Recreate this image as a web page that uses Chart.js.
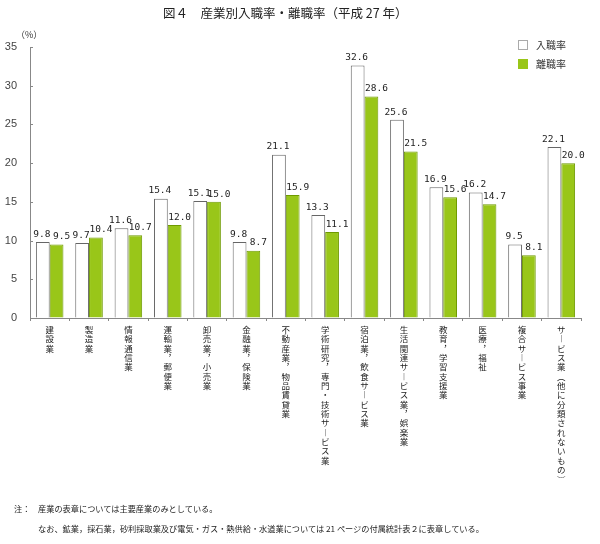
<!DOCTYPE html>
<html><head><meta charset="utf-8">
<script src="https://cdn.jsdelivr.net/npm/chart.js@4.4.0/dist/chart.umd.min.js"></script>
<style>
body{margin:0;background:#fff;width:600px;height:544px;overflow:hidden;position:relative;font-family:"Noto Sans CJK JP",sans-serif;}
#wrap{position:absolute;left:0;top:0;width:600px;height:544px;}
.t{position:absolute;white-space:nowrap;color:#222;line-height:1;}
</style></head><body>
<div id="wrap"><canvas id="c" width="600" height="544"></canvas></div>
<div class="t" style="left:163px;top:7px;font-size:12.5px;">図４　産業別入職率・離職率（平成 27 年）</div>
<div class="t" style="left:14px;top:504px;font-size:8.2px;">注：</div>
<div class="t" style="left:38px;top:504px;font-size:8.2px;">産業の表章については主要産業のみとしている。</div>
<div class="t" style="left:38px;top:524px;font-size:8.2px;">なお、鉱業，採石業，砂利採取業及び電気・ガス・熱供給・水道業については 21 ページの付属統計表２に表章している。</div>
<script>
const categories = [
  "建設業","製造業","情報通信業","運輸業，郵便業","卸売業，小売業","金融業，保険業",
  "不動産業，物品賃貸業","学術研究，専門・技術サービス業","宿泊業，飲食サービス業",
  "生活関連サービス業，娯楽業","教育，学習支援業","医療，福祉","複合サービス事業",
  "サービス業（他に分類されないもの）"
];
const entryRate = [9.8, 9.7, 11.6, 15.4, 15.1, 9.8, 21.1, 13.3, 32.6, 25.6, 16.9, 16.2, 9.5, 22.1];
const exitRate  = [9.5, 10.4, 10.7, 12.0, 15.0, 8.7, 15.9, 11.1, 28.6, 21.5, 15.6, 14.7, 8.1, 20.0];
const yTicks = [0, 5, 10, 15, 20, 25, 30, 35];
const seriesNames = ["入職率", "離職率"];

const vmap = {"，":"︐","（":"︵","）":"︶","ー":"︱"};
const verticalLabels = categories.map(s => Array.from(s).map(ch => vmap[ch] || ch));

const GREEN = "#99c619";

const extras = {
  id: "extras",
  afterDatasetsDraw(chart) {
    const ctx = chart.ctx;
    const ys = chart.scales.y, xs = chart.scales.x;
    ctx.save();
    // inner y ticks
    ctx.strokeStyle = "#888"; ctx.lineWidth = 1;
    yTicks.forEach(v => {
      const py = Math.round(ys.getPixelForValue(v)) + 0.5;
      ctx.beginPath(); ctx.moveTo(xs.left, py); ctx.lineTo(xs.left + 3, py); ctx.stroke();
    });
    // (%)
    ctx.fillStyle = "#333";
    ctx.font = "9px 'Noto Sans CJK JP'";
    ctx.textAlign = "left"; ctx.textBaseline = "middle";
    ctx.fillText("（%）", 16, ys.top - 12);
    // data labels
    ctx.font = "9.5px 'DejaVu Sans Mono'";
    ctx.fillStyle = "#222";
    ctx.textAlign = "center"; ctx.textBaseline = "bottom";
    chart.data.datasets.forEach((ds, di) => {
      const meta = chart.getDatasetMeta(di);
      meta.data.forEach((el, i) => {
        const off = di === 0 ? -1 : 5;
        ctx.fillText(ds.data[i].toFixed(1), el.x + off, el.y - 3);
      });
    });
    // legend
    ctx.font = "10px 'Noto Sans CJK JP'";
    ctx.textAlign = "left"; ctx.textBaseline = "middle";
    chart.data.datasets.forEach((ds, di) => {
      const y0 = 40 + di * 19;
      ctx.fillStyle = ds.backgroundColor;
      ctx.fillRect(518, y0, 10, 10);
      ctx.strokeStyle = di === 0 ? "#aaa" : GREEN;
      ctx.strokeRect(518.5, y0 + 0.5, 9, 9);
      ctx.fillStyle = "#333";
      ctx.fillText(ds.label, 536, y0 + 5);
    });
    ctx.restore();
  }
};

new Chart(document.getElementById("c"), {
  type: "bar",
  data: {
    labels: verticalLabels,
    datasets: [
      { label: seriesNames[0], data: entryRate, backgroundColor: "#ffffff", borderColor: "#666", borderWidth: 1 },
      { label: seriesNames[1], data: exitRate, backgroundColor: GREEN, borderColor: "#6f9a00", borderWidth: 1 }
    ]
  },
  options: {
    responsive: false,
    devicePixelRatio: 1,
    animation: false,
    layout: { padding: { left: 0, top: 47, right: 19, bottom: 56 } },
    plugins: { legend: { display: false }, title: { display: false }, tooltip: { enabled: false } },
    datasets: { bar: { categoryPercentage: 0.7, barPercentage: 1.0 } },
    scales: {
      x: {
        afterFit: s => { s.height = 170; },
        border: { color: "#888", width: 1 },
        grid: { offset: true, drawOnChartArea: false, color: "#888", tickLength: 3 },
        ticks: { autoSkip: false, maxRotation: 0, minRotation: 0, padding: 4, color: "#222",
                 font: { family: "'Noto Sans CJK JP'", size: 8.5, lineHeight: 1.1 } }
      },
      y: {
        min: 0, max: 35,
        afterFit: s => { s.width = 30; },
        afterBuildTicks: s => { s.ticks = yTicks.map(v => ({ value: v })); },
        border: { color: "#888", width: 1 },
        grid: { drawOnChartArea: false, drawTicks: false, tickLength: 0 },
        ticks: { padding: 13, color: "#444", font: { family: "'Liberation Sans'", size: 11 } }
      }
    }
  },
  plugins: [extras]
});
</script>
</body></html>
